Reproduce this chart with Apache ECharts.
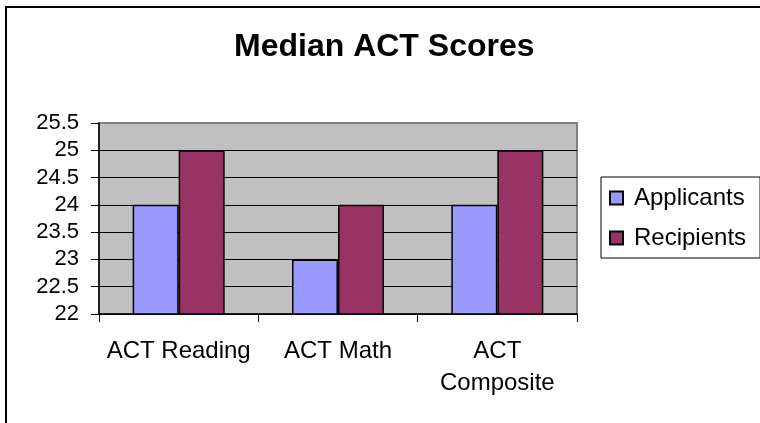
<!DOCTYPE html>
<html>
<head>
<meta charset="utf-8">
<script src="https://cdn.jsdelivr.net/npm/echarts@6/dist/echarts.min.js"></script>
<style>
    html, body { margin: 0; padding: 0; background: #fff; }
    #main { width: 760px; height: 423px; }
</style>
</head>
<body>
<div id="main"></div>
<script>
var categories = ['ACT Reading', 'ACT Math', 'ACT\nComposite'];
var applicants = [24, 23, 24];
var recipients = [25, 24, 25];
var yMin = 22, yMax = 25.5, yStep = 0.5;

var font = "'Liberation Sans', Arial, sans-serif";
var myChart = echarts.init(document.getElementById('main'));

var option = {
    animation: false,
    backgroundColor: '#fff',
    title: {
        text: 'Median ACT Scores',
        left: 234,
        top: 31,
        padding: 0,
        textStyle: {
            fontFamily: font,
            fontWeight: 'bold',
            fontSize: 32,
            color: '#000'
        }
    },
    legend: {
        orient: 'vertical',
        left: 601,
        top: 177,
        padding: [9, 14, 8, 8],
        itemGap: 16,
        itemWidth: 13,
        itemHeight: 13,
        borderColor: '#000',
        borderWidth: 1,
        backgroundColor: '#fff',
        icon: 'rect',
        data: ['Applicants', 'Recipients'],
        textStyle: {
            fontFamily: font,
            fontSize: 24,
            lineHeight: 24,
            color: '#000',
            padding: [0, 0, 0, 6]
        }
    },
    grid: {
        left: 99,
        right: 183,
        top: 123,
        bottom: 109,
        show: true,
        backgroundColor: '#C0C0C0',
        borderColor: '#808080',
        borderWidth: 2
    },
    xAxis: {
        type: 'category',
        data: categories,
        axisLine: { lineStyle: { color: '#000', width: 1.5 } },
        axisTick: { show: true, length: 8, interval: 0, lineStyle: { color: '#000' } },
        axisLabel: {
            interval: 0,
            margin: 21,
            fontFamily: font,
            fontSize: 24,
            lineHeight: 32,
            color: '#000'
        }
    },
    yAxis: {
        type: 'value',
        min: yMin,
        max: yMax,
        interval: yStep,
        axisLine: { show: true, lineStyle: { color: '#000', width: 1.5 } },
        axisTick: { show: true, length: 8, lineStyle: { color: '#000' } },
        axisLabel: {
            margin: 20,
            fontFamily: font,
            fontSize: 22,
            color: '#000'
        },
        splitLine: {
            show: true,
            lineStyle: {
                color: ['#000', '#000', '#000', '#000', '#000', '#000', '#000', '#808080'],
                width: 1
            }
        }
    },
    series: [{
        name: 'Applicants',
        type: 'bar',
        data: applicants,
        barWidth: 46,
        barGap: '0%',
        itemStyle: { color: '#9999FF', borderColor: '#000', borderWidth: 1.5 }
    }, {
        name: 'Recipients',
        type: 'bar',
        data: recipients,
        barWidth: 46,
        itemStyle: { color: '#993366', borderColor: '#000', borderWidth: 1.5 }
    }],
    graphic: [{
        type: 'rect',
        shape: { x: 6, y: 7, width: 820, height: 500 },
        style: { fill: null, stroke: '#000', lineWidth: 2 },
        silent: true,
        z: -1
    }]
};
myChart.setOption(option);
</script>
</body>
</html>
